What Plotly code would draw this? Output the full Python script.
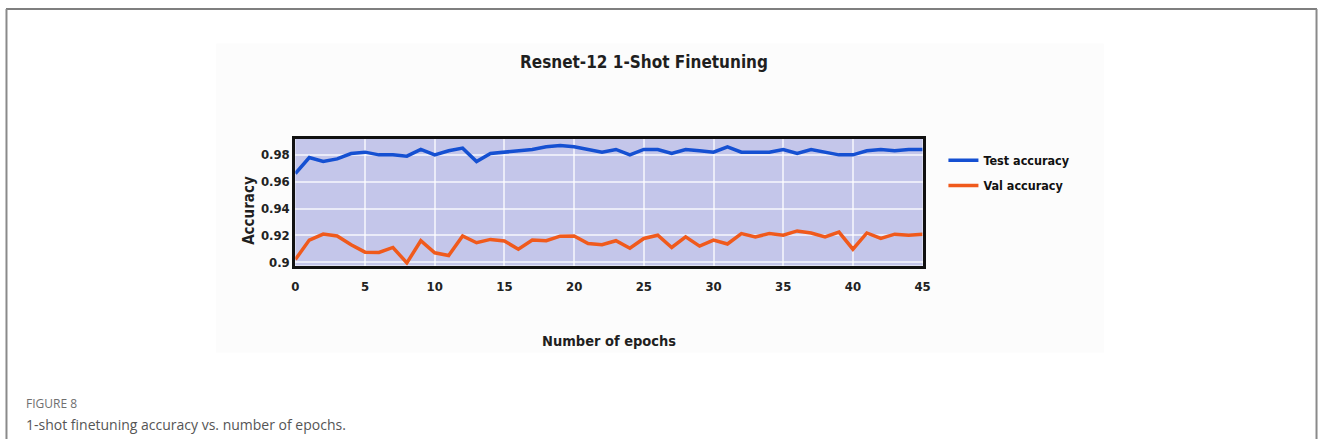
import plotly.graph_objects as go

# Epoch index and per-epoch accuracy for the two evaluation splits
epochs = list(range(46))
test_accuracy = [
    0.966, 0.978, 0.975, 0.977, 0.981, 0.982, 0.980, 0.980, 0.979, 0.984,
    0.980, 0.983, 0.985, 0.975, 0.981, 0.982, 0.983, 0.984, 0.986, 0.987,
    0.986, 0.984, 0.982, 0.984, 0.980, 0.984, 0.984, 0.981, 0.984, 0.983,
    0.982, 0.986, 0.982, 0.982, 0.982, 0.984, 0.981, 0.984, 0.982, 0.980,
    0.980, 0.983, 0.984, 0.983, 0.984, 0.984,
]
val_accuracy = [
    0.902, 0.9165, 0.921, 0.9195, 0.913, 0.9075, 0.9073, 0.911, 0.8995, 0.916,
    0.907, 0.905, 0.9196, 0.9145, 0.917, 0.9158, 0.9097, 0.9165, 0.916, 0.9194,
    0.9196, 0.914, 0.913, 0.916, 0.9104, 0.9177, 0.9201, 0.911, 0.9189, 0.912,
    0.9165, 0.9136, 0.9213, 0.9189, 0.9213, 0.9201, 0.9233, 0.9218, 0.9189, 0.9225,
    0.9097, 0.9218, 0.9177, 0.9209, 0.9201, 0.9209,
]
y_ticks = [0.9, 0.92, 0.94, 0.96, 0.98]
y_tick_labels = ["0.9", "0.92", "0.94", "0.96", "0.98"]
x_ticks = [0, 5, 10, 15, 20, 25, 30, 35, 40, 45]

W, H = 1327, 443
NARROW = "DejaVu Sans Condensed, Open Sans, sans-serif"

# plot-area placement in pixels
PLOT_L, PLOT_R, PLOT_T, PLOT_B = 294, 927, 140, 268


def px_x(p):
    return p / W


def px_y(p):
    return 1 - p / H


def label(text, x, y, size, color="#1f1f1f", family=NARROW, weight="bold",
          xanchor="center", angle=0):
    return dict(text=text, x=px_x(x), y=px_y(y), xref="paper", yref="paper",
                xanchor=xanchor, yanchor="middle", textangle=angle,
                showarrow=False,
                font=dict(family=family, size=size, color=color, weight=weight))


fig = go.Figure()
fig.add_trace(go.Scatter(
    x=epochs, y=test_accuracy, mode="lines", name="Test accuracy",
    line=dict(color="#1550d2", width=3.5), legendgroup="a",
))
fig.add_trace(go.Scatter(
    x=epochs, y=val_accuracy, mode="lines", name="Val accuracy",
    line=dict(color="#f05a1c", width=3.5), legendgroup="b",
))

fig.update_layout(
    width=W, height=H, autosize=False,
    margin=dict(l=0, r=0, t=0, b=0),
    paper_bgcolor="white",
    plot_bgcolor="rgba(0,0,0,0)",
    showlegend=True,
    legend=dict(
        x=px_x(948), y=px_y(147), xanchor="left", yanchor="top",
        font=dict(family=NARROW, size=12.5, color="#111", weight="bold"),
        bgcolor="rgba(0,0,0,0)", tracegroupgap=6, itemwidth=30,
    ),
    xaxis=dict(
        domain=[px_x(PLOT_L), px_x(PLOT_R)],
        range=[0, 45],
        tickvals=x_ticks,
        tickfont=dict(family=NARROW, size=13, color="#222", weight="bold"),
        ticklabelstandoff=7,
        showgrid=True, gridcolor="rgba(255,255,255,0.65)", gridwidth=2,
        showline=True, linecolor="#111", linewidth=3, mirror=True,
        zeroline=False, ticks="",
    ),
    yaxis=dict(
        domain=[px_y(PLOT_B), px_y(PLOT_T)],
        range=[0.8975, 0.992],
        tickvals=y_ticks, ticktext=y_tick_labels,
        tickfont=dict(family=NARROW, size=13, color="#222", weight="bold"),
        showgrid=True, gridcolor="rgba(255,255,255,0.65)", gridwidth=2,
        showline=True, linecolor="#111", linewidth=3, mirror=True,
        zeroline=False, ticks="",
    ),
    annotations=[
        label("Resnet-12 1-Shot Finetuning", 646, 63, 17),
        label("Number of epochs", 611, 344, 14.5),
        label("Accuracy", 247, 212, 15, angle=-90),
        label("FIGURE 8", 20, 407, 12, color="#6f6f6f",
              family="Open Sans, sans-serif", weight="normal", xanchor="left"),
        label("1-shot finetuning accuracy vs. number of epochs.", 20, 428, 14,
              color="#555", family="Open Sans, sans-serif", weight="normal",
              xanchor="left"),
    ],
    shapes=[
        # faint backdrop behind the chart block
        dict(type="rect", xref="paper", yref="paper", layer="below",
             x0=px_x(214), x1=px_x(1110), y0=px_y(356), y1=px_y(44),
             fillcolor="#fcfcfc", line=dict(width=0)),
        # lavender plot-area fill (under the grid)
        dict(type="rect", xref="paper", yref="paper", layer="below",
             x0=px_x(PLOT_L), x1=px_x(PLOT_R), y0=px_y(PLOT_B), y1=px_y(PLOT_T),
             fillcolor="#c4c6ea", line=dict(width=0)),
        # panel frame: top edge and the two sides
        dict(type="line", xref="paper", yref="paper",
             x0=px_x(2), x1=px_x(1325), y0=px_y(9), y1=px_y(9),
             line=dict(color="#555", width=1.5)),
        dict(type="line", xref="paper", yref="paper",
             x0=px_x(2.5), x1=px_x(2.5), y0=px_y(9), y1=0,
             line=dict(color="#8a8a8a", width=2)),
        dict(type="line", xref="paper", yref="paper",
             x0=px_x(1324.5), x1=px_x(1324.5), y0=px_y(9), y1=0,
             line=dict(color="#8a8a8a", width=2)),
    ],
)

fig.write_html("out.html")
